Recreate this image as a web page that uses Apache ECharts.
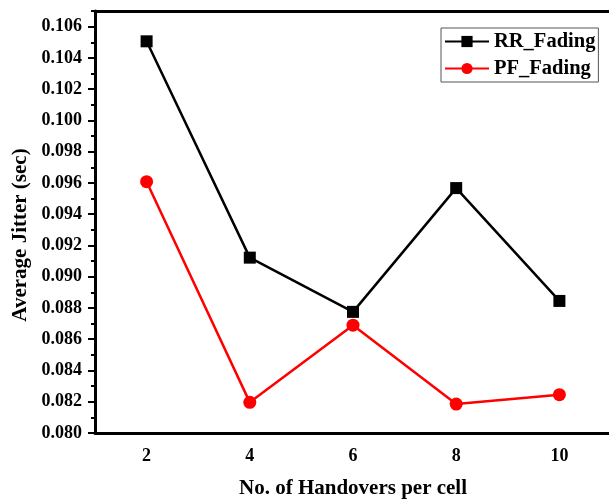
<!DOCTYPE html>
<html lang="en">
<head>
    <meta charset="UTF-8">
    <title>Average Jitter</title>
    <style>
        body { margin: 0; padding: 0; background: #fff; }
        #jitter { width: 609px; height: 500px; }
    </style>
</head>
<body>
    <div id="jitter"></div>
    <script src="https://cdn.jsdelivr.net/npm/echarts@6/dist/echarts.min.js"></script>
    <script>
        var handovers = ['2', '4', '6', '8', '10'];
        var rrFading = [0.10506, 0.09122, 0.08775, 0.09567, 0.08845];
        var pfFading = [0.09608, 0.08196, 0.08690, 0.08185, 0.08245];

        var font = "'Liberation Serif', 'Times New Roman', serif";

        var myChart = echarts.init(document.getElementById('jitter'));

        var option = {
            animation: false,
            grid: { left: 95, right: -2, top: 11, bottom: 67, outerBoundsMode: 'none' },
            legend: {
                orient: 'vertical',
                left: 441,
                top: 28,
                borderColor: '#555',
                borderWidth: 1,
                padding: [3, 3, 3, 3],
                itemGap: 6,
                itemWidth: 44,
                itemHeight: 14,
                textStyle: { fontFamily: font, fontWeight: 'bold', fontSize: 20.5, color: '#000' },
                data: ['RR_Fading', 'PF_Fading']
            },
            xAxis: [
                {
                    type: 'category',
                    position: 'bottom',
                    data: handovers,
                    name: 'No. of Handovers per cell',
                    nameLocation: 'middle',
                    nameGap: 45,
                    nameTextStyle: { fontFamily: font, fontWeight: 'bold', fontSize: 21, color: '#000' },
                    axisLine: { lineStyle: { color: '#000', width: 3 } },
                    axisTick: { alignWithLabel: true, length: 7, lineStyle: { color: '#000', width: 2 } },
                    axisLabel: { margin: 14, fontFamily: font, fontWeight: 'bold', fontSize: 18, color: '#000' },
                    splitLine: { show: false }
                },
                {
                    // minor ticks on odd values (category boundaries)
                    type: 'category',
                    position: 'bottom',
                    data: handovers,
                    axisLine: { show: false },
                    axisTick: { length: 4, lineStyle: { color: '#000', width: 2 } },
                    axisLabel: { show: false },
                    splitLine: { show: false }
                },
                {
                    // top frame
                    type: 'category',
                    position: 'top',
                    data: handovers,
                    axisLine: { lineStyle: { color: '#000', width: 3 } },
                    axisTick: { show: false },
                    axisLabel: { show: false },
                    splitLine: { show: false }
                }
            ],
            yAxis: [
                {
                    type: 'value',
                    position: 'left',
                    min: 0.080,
                    max: 0.107,
                    interval: 0.002,
                    name: 'Average Jitter (sec)',
                    nameLocation: 'middle',
                    nameGap: 64,
                    nameTextStyle: { fontFamily: font, fontWeight: 'bold', fontSize: 21, color: '#000', padding: [0, 26, 0, 0] },
                    axisLine: { show: true, lineStyle: { color: '#000', width: 3 } },
                    axisTick: { show: true, length: 7, lineStyle: { color: '#000', width: 2 } },
                    axisLabel: {
                        margin: 13, fontFamily: font, fontWeight: 'bold', fontSize: 18, color: '#000',
                        showMaxLabel: false,
                        formatter: function (v) { return v.toFixed(3); }
                    },
                    splitLine: { show: false }
                },
                {
                    // minor ticks every 0.001
                    type: 'value',
                    position: 'left',
                    min: 0.080,
                    max: 0.107,
                    interval: 0.001,
                    axisLine: { show: false },
                    axisTick: { show: true, length: 4, lineStyle: { color: '#000', width: 2 } },
                    axisLabel: { show: false },
                    splitLine: { show: false }
                }
            ],
            series: [
                {
                    name: 'RR_Fading',
                    type: 'line',
                    data: rrFading,
                    symbol: 'rect',
                    symbolSize: 12,
                    color: '#000',
                    lineStyle: { color: '#000', width: 2.5 },
                    itemStyle: { color: '#000' }
                },
                {
                    name: 'PF_Fading',
                    type: 'line',
                    data: pfFading,
                    symbol: 'circle',
                    symbolSize: 13,
                    color: '#ff0000',
                    lineStyle: { color: '#ff0000', width: 2.5 },
                    itemStyle: { color: '#ff0000' }
                }
            ]
        };

        myChart.setOption(option);
    </script>
</body>
</html>
